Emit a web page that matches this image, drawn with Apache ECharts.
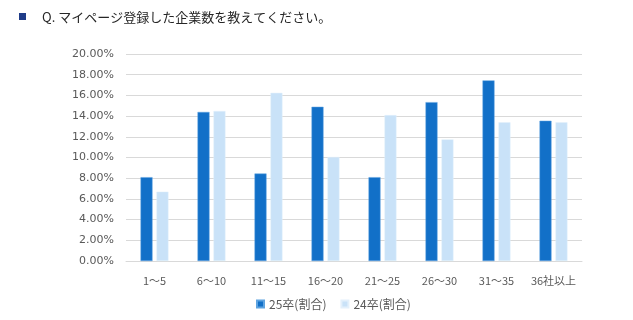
<!DOCTYPE html>
<html><head><meta charset="utf-8">
<script src="https://cdn.jsdelivr.net/npm/echarts@6/dist/echarts.min.js"></script>
<style>html,body{margin:0;padding:0;background:#fff}#c{width:633px;height:320px}</style>
</head><body><div id="c"></div>
<script>
const categories = ['1～5','6～10','11～15','16～20','21～25','26～30','31～35','36社以上'];
const series25 = [8.1, 14.4, 8.45, 14.9, 8.1, 15.35, 17.45, 13.55];
const series24 = [6.7, 14.5, 16.25, 10.05, 14.1, 11.75, 13.4, 13.4];
const seriesNames = ['25卒(割合)', '24卒(割合)'];
const titleText = 'Q. マイページ登録した企業数を教えてください。';
const yTicks = {min: 0, max: 20, interval: 2};

const font = "'Noto Sans CJK JP', 'Noto Sans', sans-serif";
const numFont = "'DejaVu Sans', 'Noto Sans CJK JP', sans-serif";
const chart = echarts.init(document.getElementById('c'));
chart.setOption({
  animation: false,
  textStyle: {fontFamily: font},
  title: {text: titleText, left: 37, top: 6, textStyle: {fontSize: 13, fontWeight: 'normal', color: '#262626', fontFamily: font}},
  graphic: [{type: 'rect', left: 19, top: 13, shape: {width: 7, height: 7}, style: {fill: '#1f3c88'}}],
  legend: {data: seriesNames, bottom: 5, left: 251, itemWidth: 7, itemHeight: 7, itemGap: 14, icon: 'rect',
    textStyle: {fontSize: 12, color: '#595959', fontFamily: font}},
  grid: {left: 126, right: 51, top: 54, bottom: 59},
  xAxis: {type: 'category', data: categories, axisTick: {show: false},
    axisLine: {lineStyle: {color: '#d9d9d9'}},
    axisLabel: {fontSize: 11, color: '#595959', margin: 14, interval: 0, fontFamily: font}},
  yAxis: {type: 'value', min: yTicks.min, max: yTicks.max, interval: yTicks.interval,
    axisLabel: {fontSize: 11, color: '#595959', margin: 12, fontFamily: numFont, formatter: v => v.toFixed(2) + '%'},
    splitLine: {lineStyle: {color: '#d9d9d9'}}},
  series: [
    {name: seriesNames[0], type: 'bar', data: series25, barWidth: 12, barGap: '33%',
     itemStyle: {color: '#1270c8', borderColor: '#5ea3e0', borderWidth: 0.5}},
    {name: seriesNames[1], type: 'bar', data: series24, barWidth: 12,
     itemStyle: {color: '#c9e2f8', borderColor: '#e3f0fb', borderWidth: 0.5}}
  ]
});
</script></body></html>
